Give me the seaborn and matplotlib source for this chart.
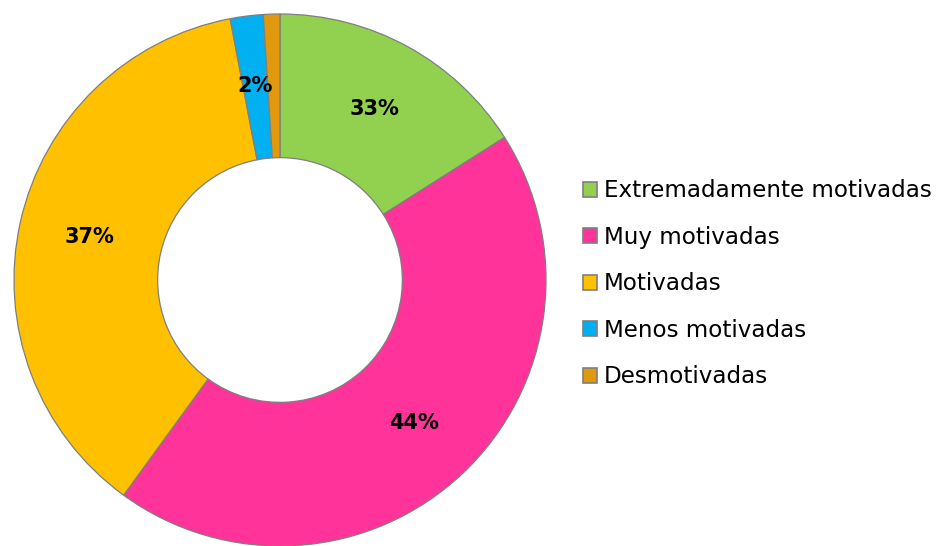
import seaborn as sns
import matplotlib.pyplot as plt
from matplotlib.patches import Patch

# data (slice sizes vs. printed labels differ in the original)
categories = ["Extremadamente motivadas", "Muy motivadas", "Motivadas",
              "Menos motivadas", "Desmotivadas"]
slice_values = [16, 44, 37, 2, 1]
slice_labels = ["33%", "44%", "37%", "2%", ""]
colors = ["#92D050", "#FF3399", "#FFC000", "#00B0F0", "#E0980C"]

sns.set_style("white")
plt.rcParams['font.family'] = ['DejaVu Sans']
plt.rcParams['text.color'] = 'black'

fig = plt.figure(figsize=(9.4, 5.46), dpi=100)
ax = fig.add_axes([14 / 940, 0.0, 532 / 940, 532 / 546])

wedges, texts = ax.pie(
    slice_values, labels=slice_labels, colors=colors,
    startangle=90, counterclock=False, labeldistance=0.735,
    wedgeprops=dict(width=0.54, edgecolor="#7F7F7F", linewidth=0.9),
    textprops=dict(fontsize=15, fontweight="bold", color="black"),
)
for t in texts:
    t.set_ha("center")
    t.set_va("center")
ax.set_xlim(-1.0, 1.0)
ax.set_ylim(-1.0, 1.0)
ax.set_aspect("equal")
ax.axis("off")

handles = [Patch(facecolor=c, edgecolor="#7F7F7F", linewidth=1.2) for c in colors]
leg = fig.legend(handles, categories, loc="center left",
                 bbox_to_anchor=(583 / 940, 0.480), frameon=False,
                 fontsize=16.6, handlelength=0.6, handleheight=0.6,
                 handletextpad=0.3, labelspacing=1.02, borderpad=0, borderaxespad=0)
for t in leg.get_texts():
    t.set_color("black")

fig.savefig("out.png", dpi=100)
